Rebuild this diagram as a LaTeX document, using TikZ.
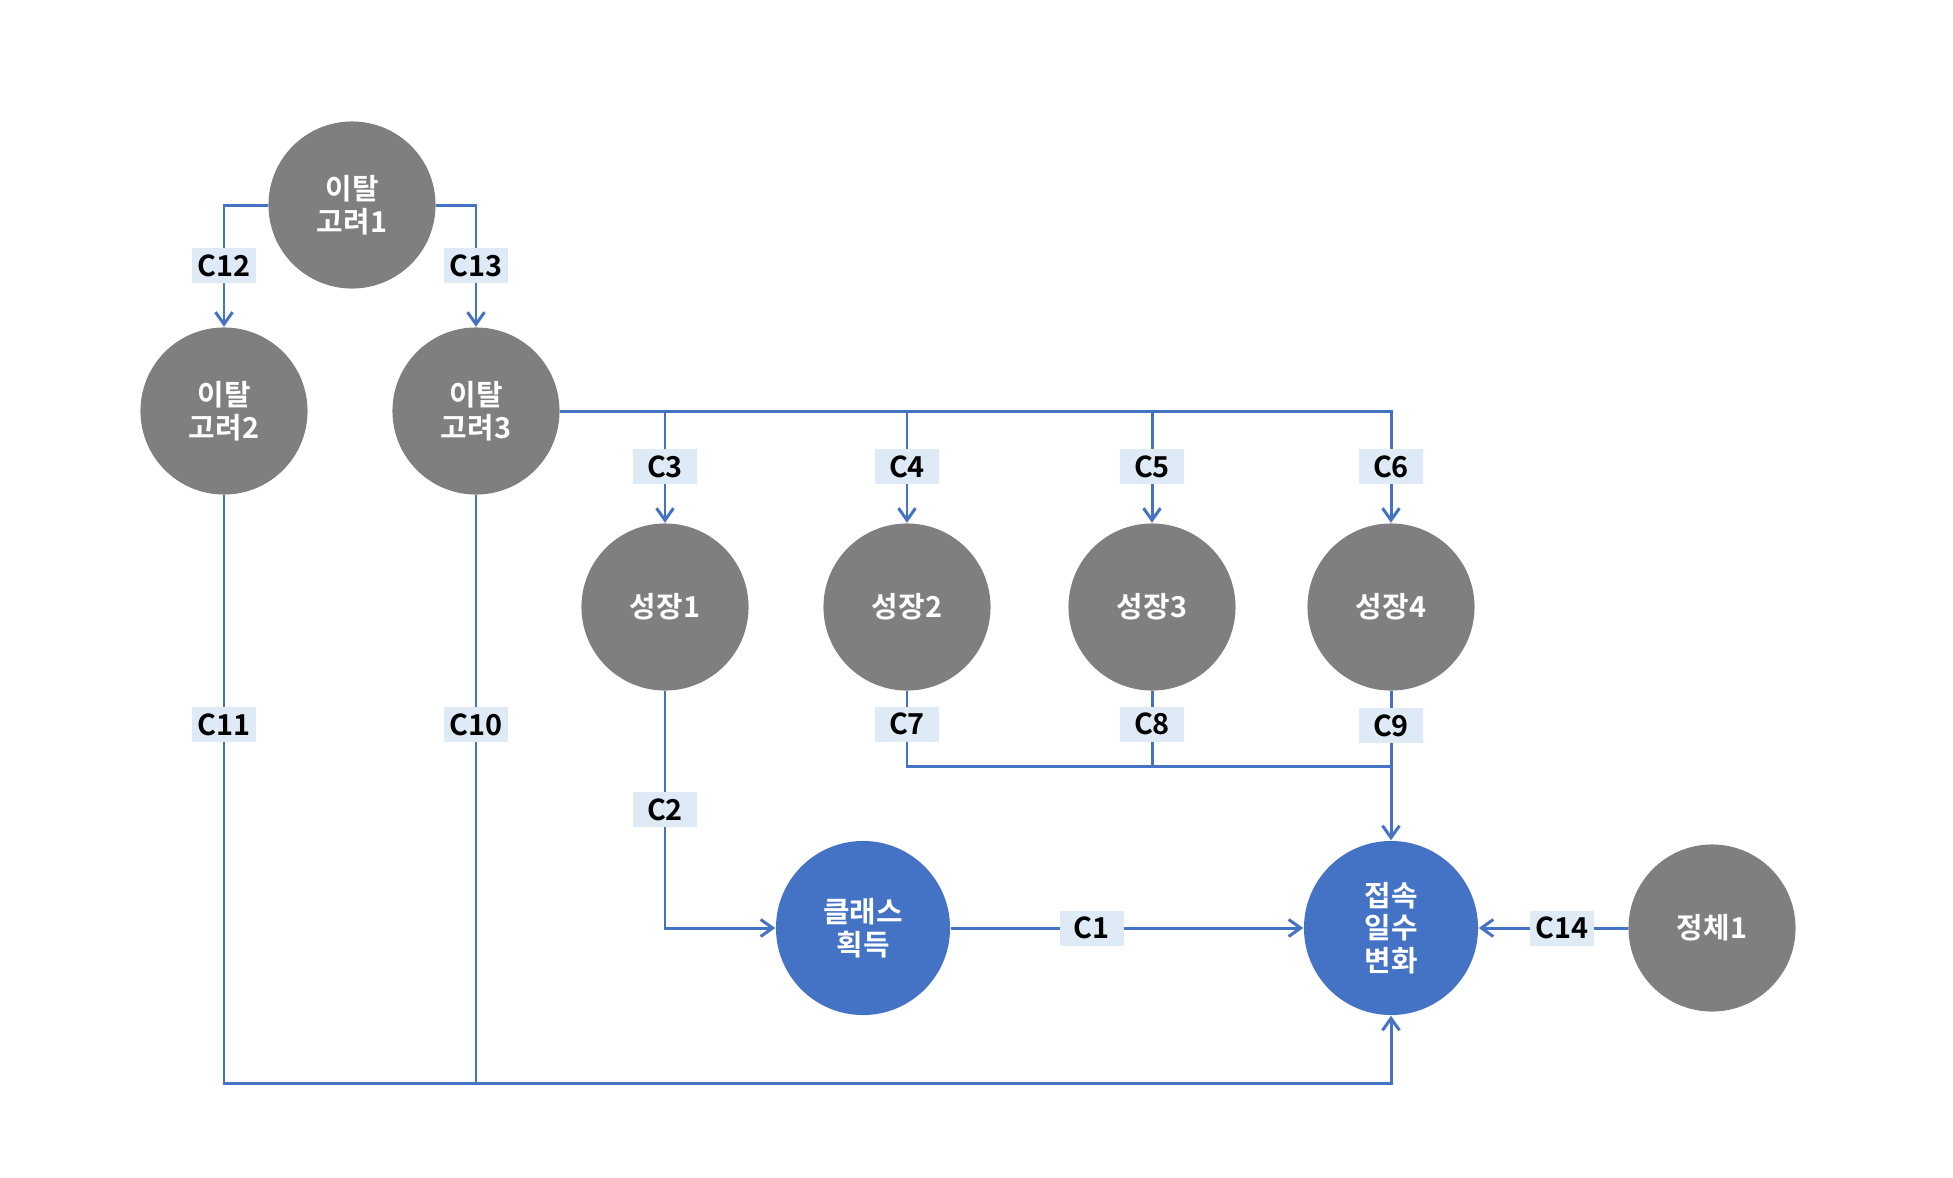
\documentclass[tikz,border=0pt]{standalone}
\usepackage{fontspec}
\setmainfont{Noto Sans CJK KR}[BoldFont={Noto Sans CJK KR Bold}]
\usetikzlibrary{arrows.meta}
\definecolor{nodegray}{HTML}{7F7F7F}
\definecolor{nodeblue}{HTML}{4472C4}
\definecolor{lblfill}{HTML}{DEEBF7}
\tikzset{
  factor/.style={circle, fill=nodegray, minimum size=1.67cm, inner sep=0pt,
    text=white, align=center, font=\bfseries\fontsize{8.2}{9.3}\selectfont},
  target/.style={factor, fill=nodeblue, minimum size=1.74cm},
  wire/.style={draw=nodeblue, line width=0.85pt},
  link/.style={wire, -{Straight Barb[length=0.12cm,width=0.17cm]}},
  lbl/.style={fill=lblfill, minimum width=0.64cm, minimum height=0.35cm,
    inner sep=0pt, text=black, font=\bfseries\fontsize{8.2}{9}\selectfont}
}
\begin{document}
\begin{tikzpicture}[x=0.01cm, y=-0.01cm]

      \useasboundingbox (0, 0) rectangle (1953, 1178);

      \node[factor] (d1) at (352, 205) {이탈\\고려1};
      \node[factor] (d2) at (224, 411) {이탈\\고려2};
      \node[factor] (d3) at (476, 411) {이탈\\고려3};
      \node[factor] (g1) at (665, 607) {성장1};
      \node[factor] (g2) at (907, 607) {성장2};
      \node[factor] (g3) at (1152, 607) {성장3};
      \node[factor] (g4) at (1391, 607) {성장4};
      \node[target] (k) at (863, 928) {클래스\\획득};
      \node[target] (a) at (1391, 928) {접속\\일수\\변화};
      \node[factor] (s) at (1712, 928) {정체1};
      \coordinate (j) at (1391, 766);
      \coordinate (bot) at (1391, 1083);

      \draw[link] (d1.west) -| node[lbl, pos=0.75] (c12) {C12} (d2.north);
      \draw[link] (d1.east) -| node[lbl, pos=0.75] (c13) {C13} (d3.north);

      \draw[link] (d3.east) -| node[lbl, pos=0.75] (c3) {C3} (g1.north);
      \draw[link] (d3.east) -| node[lbl, pos=0.75] (c4) {C4} (g2.north);
      \draw[link] (d3.east) -| node[lbl, pos=0.75] (c5) {C5} (g3.north);
      \draw[link] (d3.east) -| node[lbl, pos=0.75] (c6) {C6} (g4.north);

      \draw[link] (g1.south) |- node[lbl, pos=0.25] (c2) {C2} (k.west);
      \draw[link] (k) -- node[lbl, pos=0.4] (c1) {C1} (a);
      \draw[link] (s) -- node[lbl, pos=0.44] (c14) {C14} (a);
      \draw[link] (g4.south) -- node[lbl, pos=0.23] (c9) {C9} (a.north);
      \draw[link] (d2.south) -- node[lbl, pos=0.39] (c11) {C11} (d2.south |- bot) -| (a.south);

      \draw[wire] (g2.south) |- node[lbl, pos=0.22] (c7) {C7} (j);
      \draw[wire] (g3.south) |- node[lbl, pos=0.22] (c8) {C8} (j);
      \draw[wire] (d3.south) -- node[lbl, pos=0.39] (c10) {C10} (d3.south |- bot);
    \end{tikzpicture}
\end{document}
